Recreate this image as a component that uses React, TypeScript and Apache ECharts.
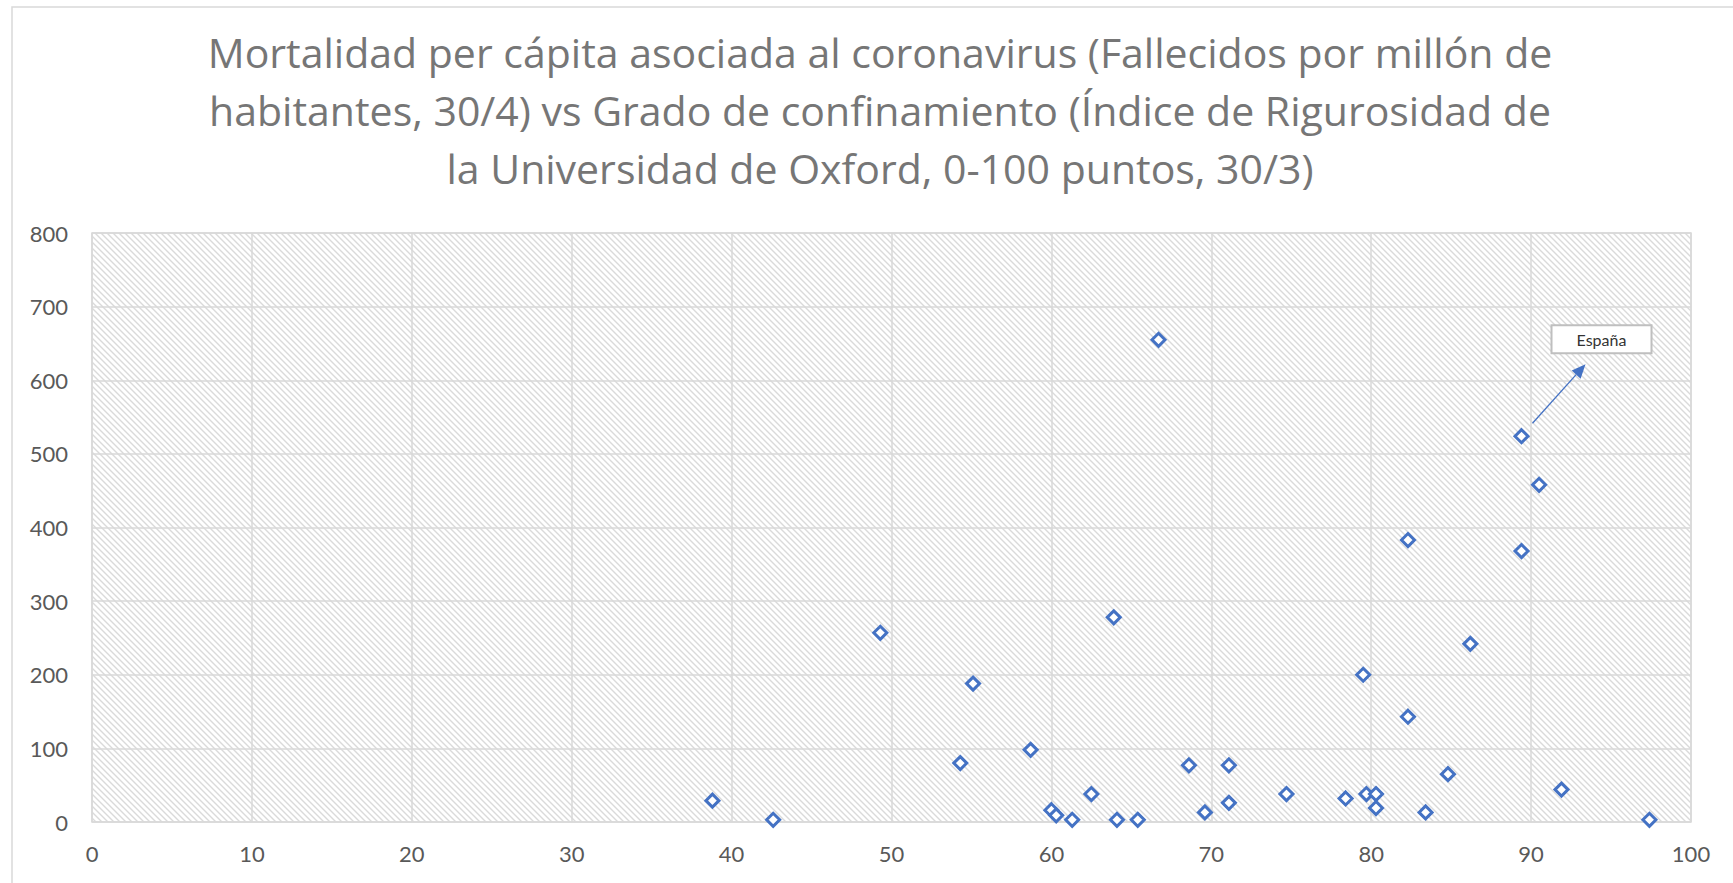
import React, { useEffect, useRef } from "react";
import * as echarts from "echarts";

const TITLE_LINES = [
  "Mortalidad per cápita asociada al coronavirus (Fallecidos por millón de",
  "habitantes, 30/4) vs Grado de confinamiento (Índice de Rigurosidad de",
  "la Universidad de Oxford, 0-100 puntos, 30/3)",
];

// Índice de Rigurosidad (x)
const stringency = [
  38.8, 42.6, 49.3, 54.3, 55.1, 58.7, 60.0, 60.3, 61.3, 62.5, 63.9, 64.1,
  65.4, 66.7, 68.6, 69.6, 71.1, 71.1, 74.7, 78.4, 79.7, 79.5, 80.3, 80.3,
  82.3, 82.3, 83.4, 84.8, 86.2, 89.4, 89.4, 90.5, 91.9, 97.4,
];
// Fallecidos por millón (y)
const deathsPerMillion = [
  29, 3, 257, 80, 188, 98, 16, 9, 3, 38, 278, 3,
  3, 655, 77, 13, 77, 26, 38, 32, 38, 200, 38, 19,
  383, 143, 13, 65, 242, 524, 368, 458, 44, 3,
];
const SPAIN_INDEX = 29;
const SPAIN_LABEL = "España";

const X_MIN = 0, X_MAX = 100, X_STEP = 10;
const Y_MIN = 0, Y_MAX = 800, Y_STEP = 100;

const hatchSvg =
  "data:image/svg+xml;charset=utf-8," +
  encodeURIComponent(
    "<svg xmlns='http://www.w3.org/2000/svg' width='6' height='6'>" +
      "<path d='M-1,-1 L7,7 M5,-1 L7,1 M-1,5 L1,7' stroke='#dadada' stroke-width='1.4'/>" +
      "</svg>"
  );

export default function App() {
  const ref = useRef<HTMLDivElement>(null);
  useEffect(() => {
    if (!ref.current) return;
    const chart = echarts.init(ref.current, undefined, { renderer: "svg" });
    const data = stringency.map((x, i) => [x, deathsPerMillion[i]]);
    chart.setOption({
      animation: false,
      backgroundColor: "#ffffff",
      title: {
        text: TITLE_LINES.join("\n"),
        left: 875,
        top: 18,
        textAlign: "center",
        textStyle: {
          fontFamily: "Open Sans",
          fontSize: 41,
          fontWeight: "normal",
          color: "#767676",
          lineHeight: 58,
        },
      },
      grid: {
        show: true,
        left: 92,
        right: 42,
        top: 233,
        bottom: 61,
        backgroundColor: {
          image: hatchSvg,
          repeat: "repeat",
          imageWidth: 6,
          imageHeight: 6,
        },
        borderColor: "#d9d9d9",
        borderWidth: 1.5,
      },
      xAxis: {
        type: "value",
        min: X_MIN,
        max: X_MAX,
        interval: X_STEP,
        axisLine: { show: false },
        axisTick: { show: false },
        axisLabel: {
          margin: 20,
          fontFamily: "Lato",
          fontSize: 22,
          color: "#595959",
        },
        splitLine: { show: true, lineStyle: { color: "#d9d9d9", width: 1.5 } },
      },
      yAxis: {
        type: "value",
        min: Y_MIN,
        max: Y_MAX,
        interval: Y_STEP,
        axisLine: { show: false },
        axisTick: { show: false },
        axisLabel: {
          margin: 24,
          fontFamily: "Lato",
          fontSize: 22,
          color: "#595959",
        },
        splitLine: { show: true, lineStyle: { color: "#d9d9d9", width: 1.5 } },
      },
      series: [
        {
          type: "scatter",
          data,
          symbol: "diamond",
          symbolSize: 13,
          itemStyle: { color: "#ffffff", borderColor: "#4472C4", borderWidth: 3, opacity: 1 },
          emphasis: { disabled: true },
        },
      ],
    });

    const p = chart.convertToPixel({ gridIndex: 0 }, data[SPAIN_INDEX]) as number[];
    const sx = p[0] + 11, sy = p[1] - 13;
    const ex = p[0] + 64, ey = p[1] - 72;
    const dx = ex - sx, dy = ey - sy;
    const len = Math.sqrt(dx * dx + dy * dy);
    const ux = dx / len, uy = dy / len;
    const hl = 14, hw = 6;
    const bx = ex - ux * hl, by = ey - uy * hl;
    const nx = -uy, ny = ux;
    chart.setOption({
      graphic: [
        {
          type: "rect",
          shape: { x: 12, y: 7, width: 1800, height: 1000 },
          style: { fill: "none", stroke: "#d9d9d9", lineWidth: 1.5 },
          silent: true,
          z: -10,
        },
        {
          type: "line",
          shape: { x1: sx, y1: sy, x2: bx, y2: by },
          style: { stroke: "#4472C4", lineWidth: 1.3 },
          z: 100,
        },
        {
          type: "polygon",
          shape: {
            points: [
              [ex, ey],
              [bx + nx * hw, by + ny * hw],
              [bx - nx * hw, by - ny * hw],
            ],
          },
          style: { fill: "#4472C4" },
          z: 100,
        },
        {
          type: "rect",
          shape: { x: p[0] + 30, y: p[1] - 111, width: 100, height: 28 },
          style: { fill: "#ffffff", stroke: "#bfbfbf", lineWidth: 2 },
          z: 100,
        },
        {
          type: "text",
          x: p[0] + 80,
          y: p[1] - 97,
          style: {
            text: SPAIN_LABEL,
            fontFamily: "Lato",
            fontSize: 16,
            fill: "#333333",
            align: "center",
            verticalAlign: "middle",
          },
          z: 101,
        },
      ],
    });
    return () => chart.dispose();
  }, []);
  return (
    <div
      ref={ref}
      style={{ position: "fixed", left: 0, top: 0, width: 1733, height: 883 }}
    />
  );
}
